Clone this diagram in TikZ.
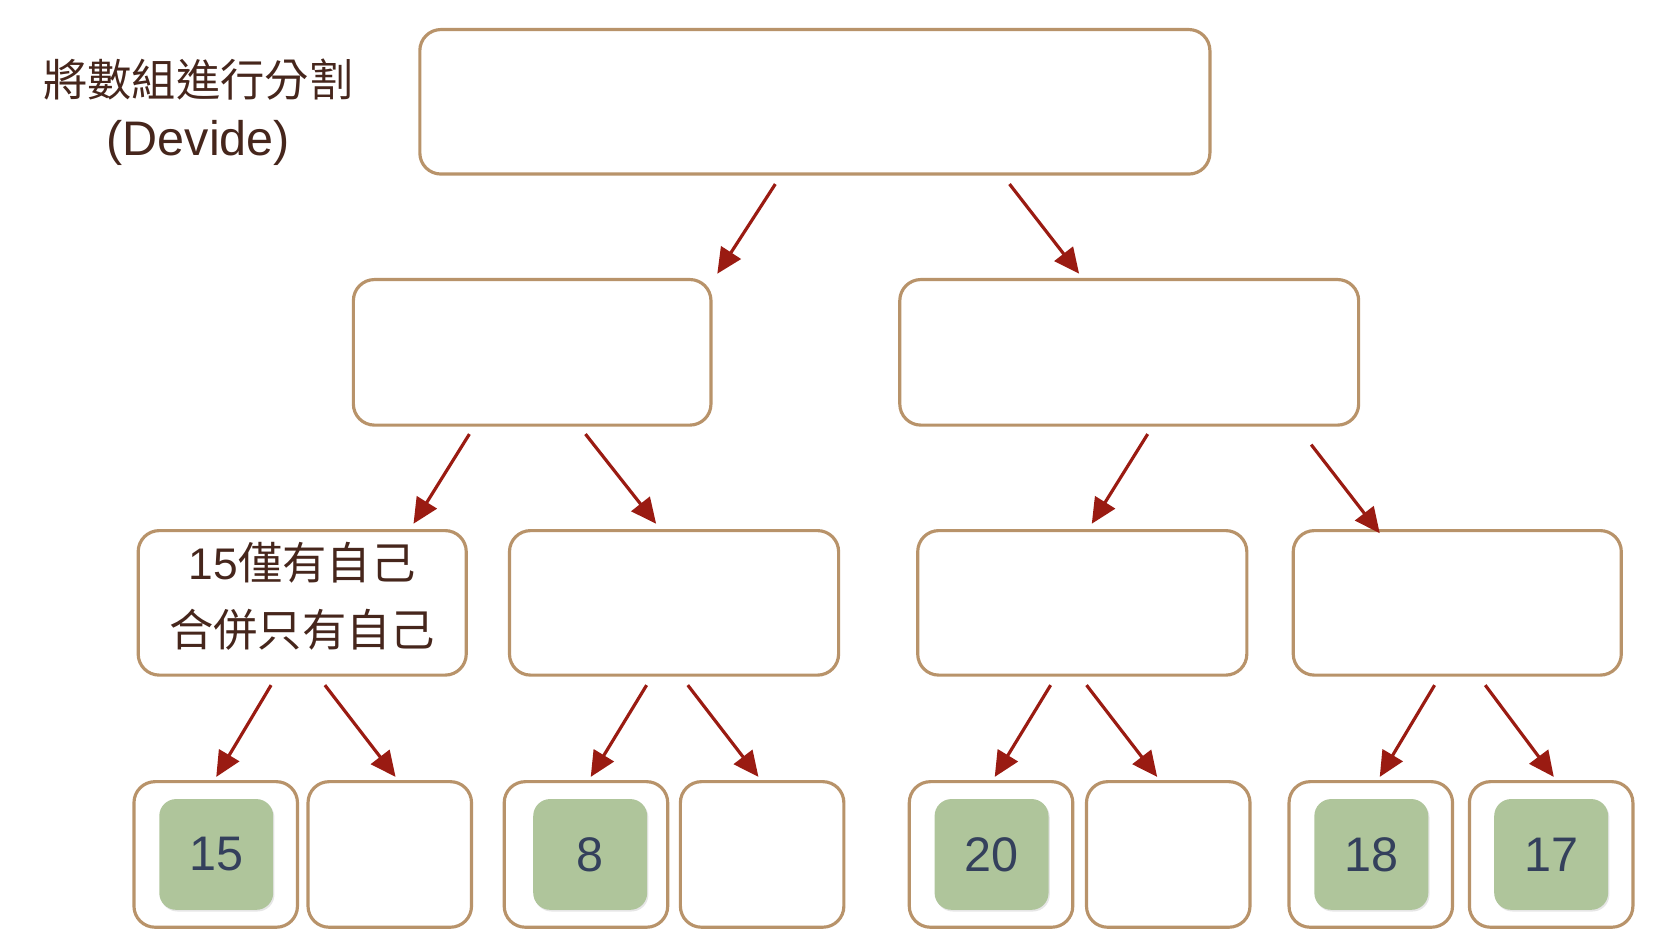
\documentclass[tikz,border=0pt]{standalone}
\usepackage{fontspec}
\setmainfont{Liberation Sans}
\newfontfamily\cjk{Noto Sans CJK TC}
\usetikzlibrary{arrows.meta,shadows}
\definecolor{boxline}{HTML}{B8936A}
\definecolor{cellgreen}{HTML}{AFC59B}
\definecolor{numblue}{HTML}{34405C}
\definecolor{arrred}{HTML}{9A1B12}
\definecolor{txtbrown}{HTML}{46261C}
\begin{document}
\begin{tikzpicture}[x=0.5pt,y=-0.5pt,
    box/.style 2 args={draw=boxline,line width=1.5pt,rounded corners=10pt,inner sep=0pt,
      minimum width=#1*0.5pt,minimum height=#2*0.5pt},
    cell/.style={fill=cellgreen,rounded corners=8pt,inner sep=0pt,
      minimum width=54pt,minimum height=52.5pt,text=numblue,
      font=\fontsize{23}{27}\selectfont,
      drop shadow={opacity=0.2,shadow xshift=0.6pt,shadow yshift=-0.8pt}},
    arr/.style={draw=arrred,line width=1.5pt,-{Triangle[length=12pt,width=11pt]}},
    lbl/.style={text=txtbrown,align=center}]
  \useasboundingbox (0,0) rectangle (1568,895);
  % 
  \node[lbl,font=\fontsize{21}{28}\selectfont] (desc) at (188,106)
    {{\cjk 將數組進行分割}\\{\fontsize{23}{28}\selectfont(Devide)}};
  % 
  \node[box={749}{137}] (top) at (772.5,96.5) {};
  \node[box={339}{138}] (l) at (504.5,334) {};
  \node[box={435}{138}] (r) at (1070.5,334) {};
  % 
  \node[box={311}{137}] (ll) at (286.5,571.5) {};
  \node[lbl,font=\fontsize{21}{32}\selectfont] (lltext) at ([yshift=3pt]ll.center)
    {15{\cjk 僅有自己}\\{\cjk 合併只有自己}};
  \node[box={312}{137}] (lr) at (639,571.5) {};
  \node[box={312}{137}] (rl) at (1026,571.5) {};
  \node[box={311}{137}] (rr) at (1381.5,571.5) {};
  % 
  \foreach \n/\x in {b1/204.5,b2/369.5,b3/555.5,b4/722.5,b5/939.5,b6/1107.5,b7/1299.5,b8/1470.5}
    \node[box={155}{138}] (\n) at (\x,810) {};
  \node[cell] (c15) at ([xshift=0.25pt]b1.center) {15};
  \node[cell] (c8) at ([xshift=2pt]b3.center) {8};
  \node[cell] (c20) at ([xshift=0.25pt]b5.center) {20};
  \node[cell] (c18) at ([xshift=0.25pt]b7.center) {18};
  \node[cell] (c17) at (b8.center) {17};
  % 
  \foreach \p/\sx/\sy/\c/\ex/\ey in {top/-37.5/8/l/175.5/-4, top/184.5/8/r/-47.5/-4,
      l/-59.5/7/ll/105.5/-5, l/50.5/7/lr/-17/-5,
      r/17.5/7/rl/9/-5, r/172.5/17/rr/-73.5/4,
      ll/-29.5/8/b1/0.5/-3, ll/21.5/8/b2/5.5/-3,
      lr/-26/8/b3/4.5/-3, lr/13/8/b4/-3.5/-3,
      rl/-30/8/b5/3.5/-3, rl/4/8/b6/-10.5/-3,
      rr/-21.5/8/b7/8.5/-3, rr/26.5/8/b8/2.5/-3}
    \draw[arr] ([shift={(\sx,\sy)}]\p.south) -- ([shift={(\ex,\ey)}]\c.north);
\end{tikzpicture}
\end{document}
